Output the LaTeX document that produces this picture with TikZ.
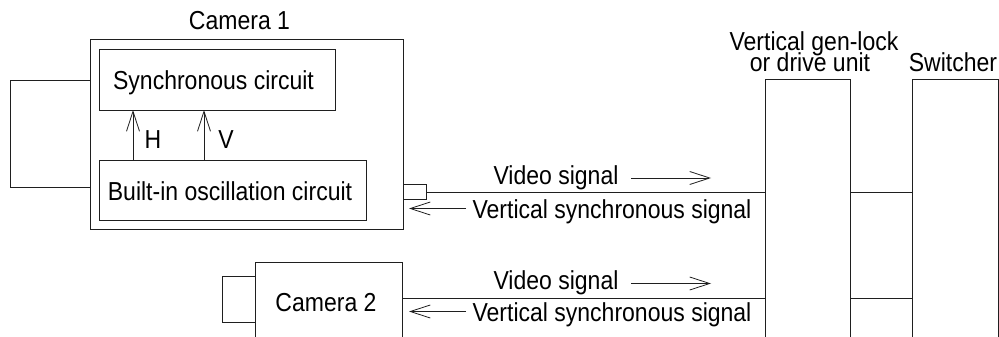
\documentclass[tikz,border=0pt]{standalone}
\usepackage{fontspec}
\setmainfont[FakeStretch=0.885]{Liberation Sans}
\usetikzlibrary{arrows.meta}
\definecolor{ink}{gray}{0.12}
\tikzset{
 box/.style={draw=ink,line width=1pt,anchor=north west,inner sep=0pt,outer sep=0pt},
 wire/.style={draw=ink,line width=1pt},
 sig/.style={draw=ink,line width=1pt,-{Straight Barb[length=20pt,width=13pt,line width=0.8pt]}},
 lbl/.style={text=black,inner sep=0pt,font=\fontsize{26}{26}\selectfont,anchor=base}
}
\begin{document}
\begin{tikzpicture}[x=1pt,y=-1pt]
\useasboundingbox (0,0) rectangle (999,337);
\clip (0,0) rectangle (999,337);
% camera 1
\node[box,minimum width=313pt,minimum height=190pt] (cam1) at (90,39.5) {};
\node[box,minimum width=236pt,minimum height=60pt] (sync) at (99,50) {};
\node[box,minimum width=267pt,minimum height=60pt] (osc) at (99,160) {};
\node[box,minimum width=23pt,minimum height=15pt] (conn) at (403,184) {};
\node[lbl] (t1) at (239.5,30) {Camera 1};
\node[lbl] (t2) at (213.5,89.5) {Synchronous circuit};
\node[lbl] (t3) at (230,200) {Built-in oscillation circuit};
\node[lbl] (tH) at (153,148) {H};
\node[lbl] (tV) at (226,148) {V};
% internal arrows
\coordinate (h0) at (133,160); \coordinate (h1) at (133,110);
\coordinate (v0) at (204,160); \coordinate (v1) at (204,110);
\draw[sig] (h0) -- (h1);
\draw[sig] (v0) -- (v1);
% left loop
\coordinate (l0) at (90,81); \coordinate (l1) at (90,187.5);
\draw[wire] (l0) -- (10,81) -- (10,187.5) -- (l1);
% camera 2
\node[box,minimum width=147pt,minimum height=100pt] (cam2) at (255,262.5) {};
\node[box,minimum width=33pt,minimum height=46pt] (lens) at (222,276.5) {};
\node[lbl] (t4) at (326,311) {Camera 2};
% right units
\node[box,minimum width=85.5pt,minimum height=300pt] (unit) at (765,80) {};
\node[box,minimum width=86pt,minimum height=300pt] (sw) at (912,80) {};
\node[lbl] (t5) at (814,51) {Vertical gen-lock};
\node[lbl] (t5b) at (810,71) {or drive unit};
\node[lbl] (t6) at (953,71) {Switcher};
% wires
\coordinate (a1) at (426,192); \coordinate (a2) at (765,192);
\coordinate (b1) at (850.5,192); \coordinate (b2) at (912,192);
\coordinate (c1) at (402,298.5); \coordinate (c2) at (765,298.5);
\coordinate (d1) at (850.5,298.5); \coordinate (d2) at (912,298.5);
\draw[wire] (a1) -- (a2);
\draw[wire] (b1) -- (b2);
\draw[wire] (c1) -- (c2);
\draw[wire] (d1) -- (d2);
% signal labels and arrows
\node[lbl] (v1t) at (556,184) {Video signal};
\node[lbl] (v2t) at (556,289) {Video signal};
\node[lbl] (s1t) at (612,218) {Vertical synchronous signal};
\node[lbl] (s2t) at (612,321) {Vertical synchronous signal};
\coordinate (va0) at (631,178); \coordinate (va1) at (711,178);
\coordinate (vb0) at (631,283.5); \coordinate (vb1) at (711,283.5);
\coordinate (sa0) at (466,208.5); \coordinate (sa1) at (409,208.5);
\coordinate (sb0) at (466,311.5); \coordinate (sb1) at (409,311.5);
\draw[sig] (va0) -- (va1);
\draw[sig] (vb0) -- (vb1);
\draw[sig] (sa0) -- (sa1);
\draw[sig] (sb0) -- (sb1);
\end{tikzpicture}
\end{document}
